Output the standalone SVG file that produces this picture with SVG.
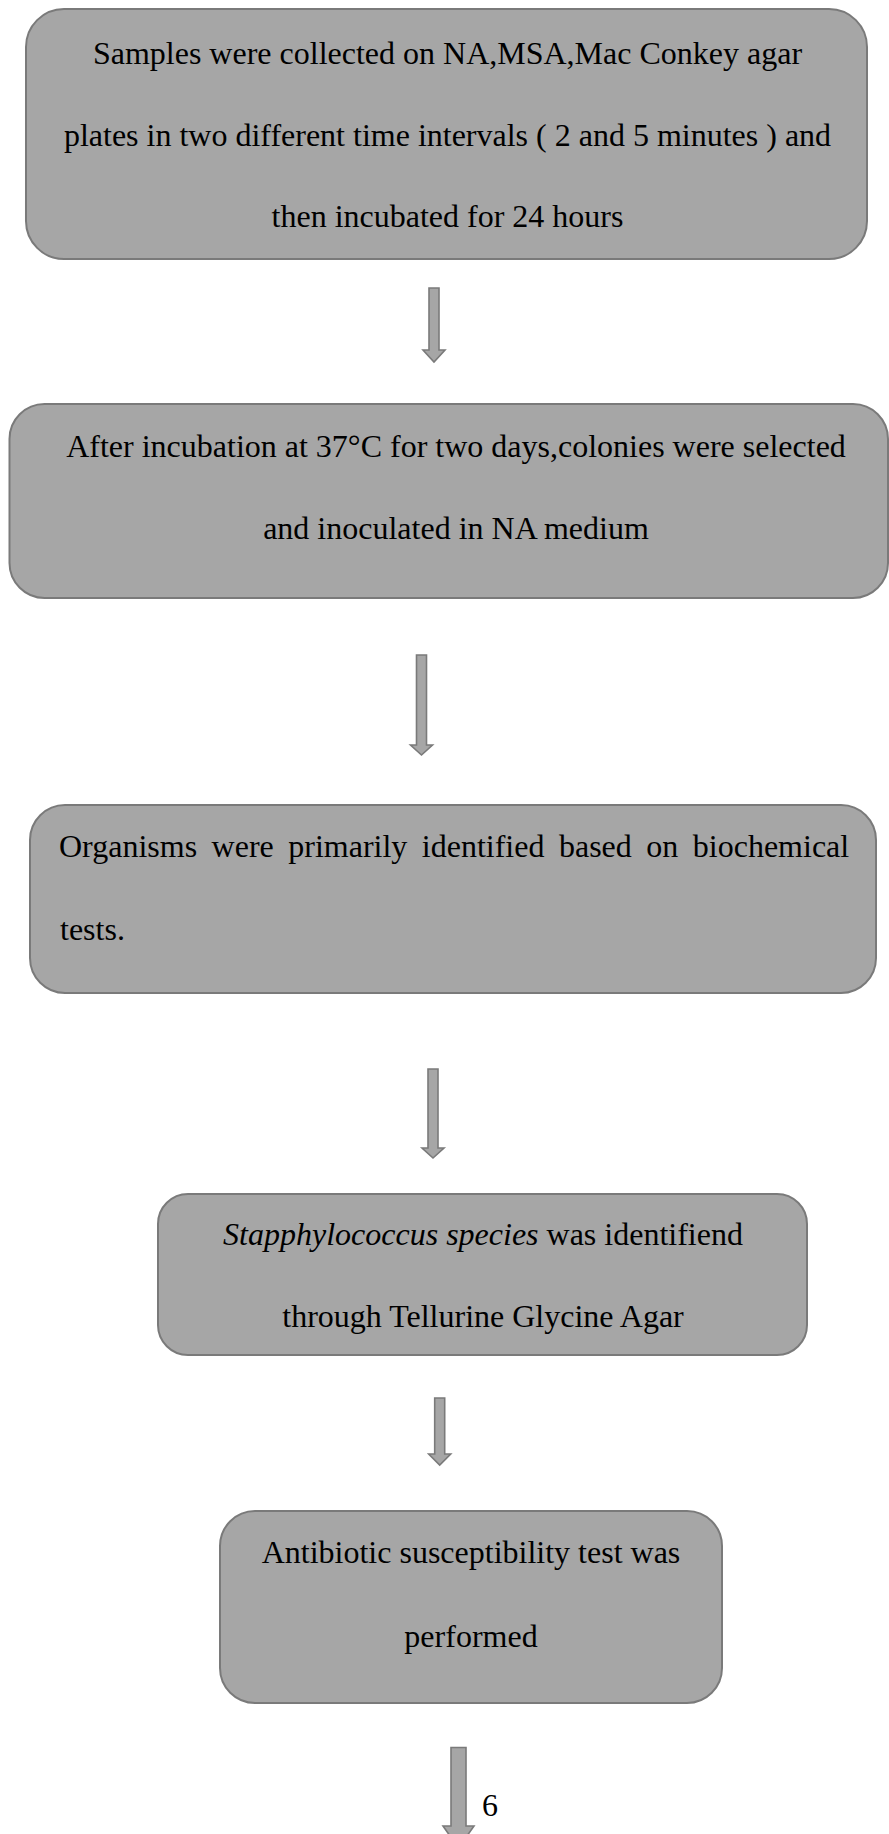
<svg xmlns="http://www.w3.org/2000/svg" width="889" height="1834" viewBox="0 0 889 1834">
<style>
  .box { fill: #a6a6a6; stroke: #7a7a7a; stroke-width: 2; }
  .arrow { fill: #a6a6a6; stroke: #7a7a7a; stroke-width: 1.6; stroke-linejoin: miter; }
  .t { font-family: "Liberation Serif", "Times New Roman", serif; font-size: 32px; fill: #000; }
  .c { text-anchor: middle; }
</style>
<rect width="889" height="1834" fill="#ffffff"/>
<g id="connectors">
  <path class="arrow" d="M429,288 H439 V350 H445 L434,362 L423,350 H429 Z"/>
  <path class="arrow" d="M416.5,655 H426.5 V745 H432.5 L421.5,755 L410.5,745 H416.5 Z"/>
  <path class="arrow" d="M428,1069 H438 V1148 H444 L433,1158 L422,1148 H428 Z"/>
  <path class="arrow" d="M434.7,1398 H444.7 V1454 H450.7 L439.7,1465 L428.7,1454 H434.7 Z"/>
  <path class="arrow" d="M451,1747.5 H466 V1826 H474 L458.5,1848 L443,1826 H451 Z"/>
</g>
<g id="node1">
  <rect class="box" x="26" y="9" width="841" height="250" rx="38" ry="38"/>
  <text class="t c" x="447.5" y="64">Samples were collected on NA,MSA,Mac Conkey agar</text>
  <text class="t c" x="447.5" y="145.6">plates in two different time intervals ( 2 and 5 minutes ) and</text>
  <text class="t c" x="447.5" y="227.3">then incubated for 24 hours</text>
</g>
<g id="node2">
  <rect class="box" x="9.5" y="404" width="878.5" height="194" rx="35" ry="35"/>
  <text class="t c" x="456" y="457">After incubation at 37°C for two days,colonies were selected</text>
  <text class="t c" x="456" y="538.5">and inoculated in NA medium</text>
</g>
<g id="node3">
  <rect class="box" x="30" y="805" width="846" height="188" rx="35" ry="35"/>
  <text class="t" x="59" y="856.5" word-spacing="6.5">Organisms were primarily identified based on biochemical</text>
  <text class="t" x="60" y="940">tests.</text>
</g>
<g id="node4">
  <rect class="box" x="158" y="1194" width="649" height="161" rx="30" ry="30"/>
  <text class="t c" x="483" y="1245"><tspan font-style="italic">Stapphylococcus species</tspan> was identifiend</text>
  <text class="t c" x="483" y="1327">through Tellurine Glycine Agar</text>
</g>
<g id="node5">
  <rect class="box" x="220" y="1511" width="502" height="192" rx="35" ry="35"/>
  <text class="t c" x="471" y="1563">Antibiotic susceptibility test was</text>
  <text class="t c" x="471" y="1646.7">performed</text>
</g>
<text class="t" x="482" y="1816">6</text>
</svg>
